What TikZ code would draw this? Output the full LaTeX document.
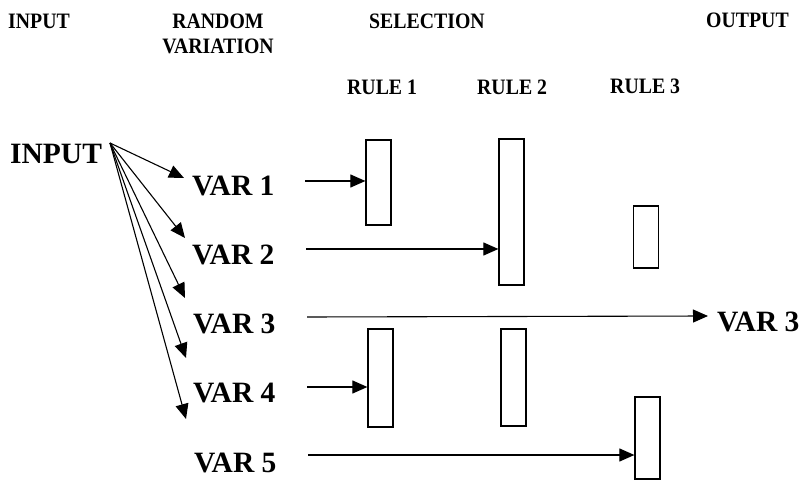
\documentclass[tikz,border=0pt]{standalone}
\usepackage{fontspec}
\setmainfont{Liberation Serif}
\newfontfamily\headfont[FakeStretch=0.9]{Liberation Serif}
\usetikzlibrary{arrows.meta}
\begin{document}
\begin{tikzpicture}[x=1pt,y=-1pt,
  head/.style={font=\headfont\bfseries\fontsize{22}{25}\selectfont, inner sep=0pt},
  big/.style={font=\bfseries\fontsize{29.5}{32}\selectfont, inner sep=0pt, anchor=base west},
  rulebox/.style={draw, line width=1.2pt, inner sep=0pt, minimum width=25pt},
  arr/.style={line width=1.1pt, -{Triangle[length=15pt,width=13pt]}}]
\useasboundingbox (0,0) rectangle (804,481);

% column headings
\node[head, anchor=base west] (hin) at (8,29) {INPUT};
\node[head, anchor=north, align=center] (hrv) at (218,14) {RANDOM\\VARIATION};
\node[head, anchor=base west] (hsel) at (369,29) {SELECTION};
\node[head, anchor=base west] (hout) at (706,28) {OUTPUT};
\node[head, anchor=base west] (hr1) at (347,95) {RULE 1};
\node[head, anchor=base west] (hr2) at (477,95) {RULE 2};
\node[head, anchor=base west] (hr3) at (610,94) {RULE 3};

% input and its variants
\node[big] (in) at (10,164) {INPUT};
\node[big] (v1) at (192,196) {VAR 1};
\node[big] (v2) at (192,265) {VAR 2};
\node[big] (v3) at (193,334) {VAR 3};
\node[big] (v4) at (193,402) {VAR 4};
\node[big] (v5) at (194,472) {VAR 5};
\node[big] (o3) at (717,332) {VAR 3};

% selection rules
\node[rulebox, minimum height=85pt]  (r1a) at (378.5,182.5) {};
\node[rulebox, minimum height=146pt] (r2a) at (511.5,212) {};
\node[rulebox, minimum height=62pt]  (r3a) at (646,237) {};
\node[rulebox, minimum height=98pt]  (r1b) at (380.5,378) {};
\node[rulebox, minimum height=97pt]  (r2b) at (513.5,377.5) {};
\node[rulebox, minimum height=82pt]  (r3b) at (647.5,438) {};

% fan of variations
\coordinate (src) at (110,143);
\coordinate (t1) at (184,178);
\coordinate (t2) at (185,238);
\coordinate (t3) at (185,298);
\coordinate (t4) at (186,358);
\coordinate (t5) at (186,419);
\foreach \t in {t1,t2,t3,t4,t5} \draw[arr] (src) -- (\t);

% each variation tested by the rules
\coordinate (s1) at (305,181);
\coordinate (s2) at (306,249);
\coordinate (s3) at (307,317);
\coordinate (s4) at (307,387);
\coordinate (s5) at (308,455);
\coordinate (e3) at (708,316);
\draw[arr] (s1) -- (s1 -| r1a.west);
\draw[arr] (s2) -- (s2 -| r2a.west);
\draw[arr] (s3) -- (e3);
\draw[arr] (s4) -- (s4 -| r1b.west);
\draw[arr] (s5) -- (s5 -| r3b.west);
\end{tikzpicture}
\end{document}
